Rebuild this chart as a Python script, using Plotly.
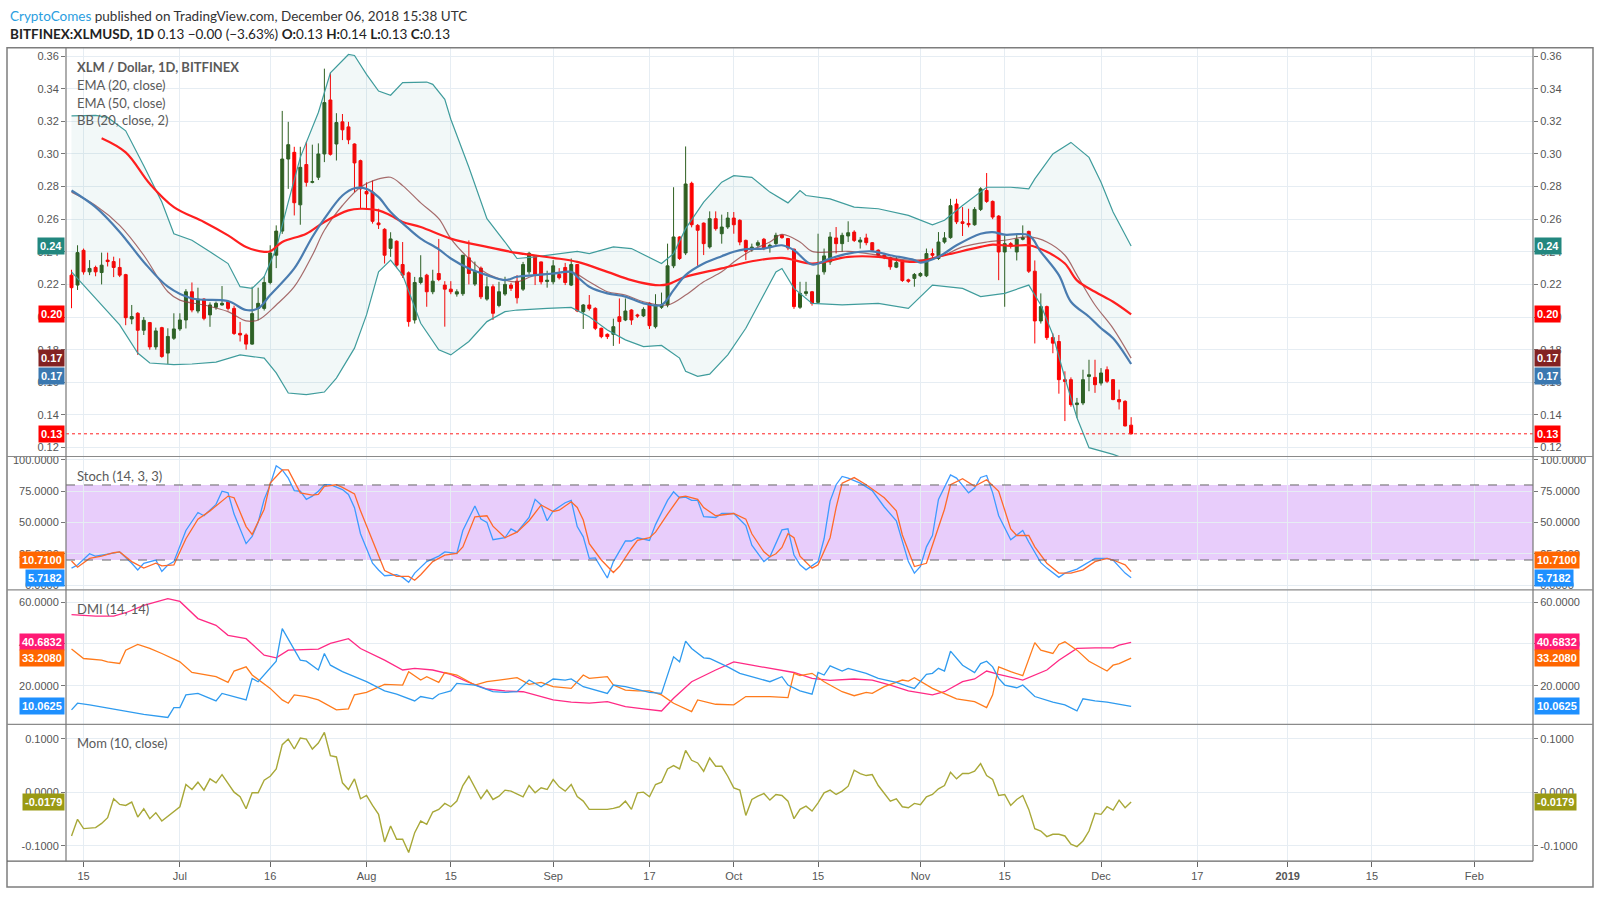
import plotly.graph_objects as go
import pandas as pd

# ---------------- data ----------------
candle_dates = pd.date_range("2018-06-13", "2018-12-06", freq="D")

opens = [.2257,.2196,.2409,.2277,.2304,.2273,.2349,.2340,.2304,.2260,
         .1988,.2023,.1919,.1966,.1817,.1935,.1779,.1870,.1927,.1982,
         .2155,.2037,.2110,.2013,.2060,.2074,.2094,.2053,.1900,.1890,
         .1834,.2053,.2053,.2212,.2379,.2527,.2969,.3010,.2688,.2935,
         .2826,.2857,.3000,.3331,.3061,.3197,.3166,.3061,.2959,.2770,
         .2766,.2577,.2538,.2421,.2465,.2322,.2271,.1982,.2212,.2257,
         .2155,.2267,.2196,.2171,.2141,.2143,.2363,.2202,.2300,.2110,
         .2186,.2071,.2141,.2196,.2220,.2171,.2277,.2373,.2338,.2218,
         .2216,.2261,.2304,.2196,.2322,.2033,.2074,.2053,.1931,.1894,
         .1894,.2002,.1982,.2043,.2013,.2007,.2084,.1941,.2060,.2074,
         .2314,.2491,.2393,.2820,.2562,.2576,.2430,.2603,.2511,.2552,
         .2607,.2593,.2470,.2413,.2440,.2477,.2427,.2450,.2501,.2481,
         .2416,.2060,.2145,.2155,.2090,.2277,.2338,.2485,.2450,.2497,
         .2521,.2460,.2485,.2456,.2410,.2379,.2363,.2306,.2338,.2228,
         .2237,.2253,.2253,.2389,.2359,.2460,.2487,.2693,.2584,.2574,
         .2566,.2660,.2776,.2709,.2619,.2399,.2450,.2399,.2477,.2525,
         .2281,.1976,.2064,.1874,.1850,.1616,.1616,.1463,.1473,.1636,
         .1630,.1595,.1677,.1616,.1494,.1483,.1337]
highs = [.2290,.2440,.2420,.2349,.2315,.2395,.2395,.2370,.2360,.2265,
         .2074,.2030,.2000,.1970,.1935,.1940,.1931,.2023,.2023,.2171,
         .2212,.2180,.2115,.2090,.2095,.2190,.2100,.2070,.1970,.1900,
         .2186,.2180,.2250,.2440,.2562,.3264,.3197,.3044,.3044,.3075,
         .3057,.3065,.3523,.3498,.3250,.3245,.3197,.3065,.2965,.2826,
         .2837,.2664,.2545,.2520,.2470,.2460,.2280,.2246,.2379,.2265,
         .2290,.2479,.2220,.2220,.2170,.2380,.2470,.2340,.2310,.2247,
         .2200,.2216,.2247,.2210,.2257,.2338,.2400,.2380,.2340,.2284,
         .2349,.2300,.2332,.2359,.2325,.2080,.2135,.2060,.1935,.1900,
         .1990,.2114,.2114,.2048,.2020,.2060,.2090,.2140,.2150,.2450,
         .2796,.2495,.3046,.2830,.2570,.2580,.2648,.2648,.2628,.2644,
         .2644,.2600,.2475,.2450,.2470,.2485,.2450,.2517,.2507,.2485,
         .2420,.2216,.2216,.2160,.2511,.2420,.2521,.2552,.2517,.2587,
         .2532,.2490,.2511,.2460,.2415,.2385,.2370,.2369,.2345,.2235,
         .2270,.2275,.2420,.2420,.2521,.2521,.2725,.2725,.2674,.2664,
         .2674,.2796,.2883,.2715,.2625,.2501,.2460,.2511,.2562,.2530,
         .2347,.2145,.2070,.1900,.1890,.1667,.1630,.1504,.1677,.1738,
         .1738,.1687,.1697,.1620,.1555,.1490,.1386]
lows = [.2054,.2166,.2260,.2257,.2250,.2200,.2310,.2245,.2245,.1950,
        .1956,.1768,.1890,.1800,.1800,.1750,.1712,.1860,.1915,.1930,
        .2029,.2023,.1980,.1940,.2045,.2070,.2040,.1890,.1850,.1800,
        .1830,.1980,.2040,.2200,.2300,.2510,.2786,.2623,.2566,.2800,
        .2820,.2840,.2950,.2990,.2960,.3085,.3060,.2766,.2664,.2664,
        .2573,.2540,.2328,.2369,.2300,.2240,.1941,.1960,.2200,.2063,
        .2140,.2220,.1941,.2140,.2125,.2130,.2200,.2190,.2110,.2100,
        .1982,.2060,.2130,.2160,.2083,.2160,.2260,.2196,.2200,.2180,
        .2200,.2230,.2196,.2190,.2030,.1927,.2040,.1920,.1870,.1865,
        .1823,.1836,.1975,.1952,.1995,.2000,.1927,.1930,.2050,.2060,
        .2300,.2350,.2380,.2550,.2314,.2380,.2420,.2530,.2450,.2540,
        .2511,.2440,.2349,.2400,.2430,.2410,.2395,.2440,.2480,.2410,
        .2050,.2050,.2130,.2070,.2080,.2260,.2320,.2390,.2400,.2460,
        .2460,.2420,.2440,.2400,.2370,.2355,.2290,.2300,.2215,.2210,
        .2186,.2245,.2245,.2359,.2350,.2450,.2480,.2570,.2497,.2550,
        .2560,.2650,.2700,.2600,.2226,.2063,.2420,.2347,.2470,.2270,
        .1838,.1960,.1860,.1778,.1530,.1362,.1450,.1382,.1460,.1545,
        .1535,.1580,.1595,.1490,.1433,.1330,.1280]
closes = [.2180,.2395,.2277,.2298,.2277,.2318,.2340,.2304,.2257,.1996,
          .2003,.1919,.1980,.1817,.1915,.1758,.1881,.1927,.1982,.2155,
          .2043,.2110,.1992,.2074,.2084,.2084,.2053,.1899,.1890,.1834,
          .2021,.2084,.2212,.2393,.2527,.2969,.3057,.2701,.2918,.2826,
          .2830,.3000,.3315,.2998,.3193,.3148,.3087,.2945,.2786,.2755,
          .2587,.2566,.2379,.2479,.2318,.2257,.1972,.2212,.2241,.2155,
          .2220,.2230,.2171,.2155,.2155,.2379,.2267,.2281,.2124,.2186,
          .2023,.2155,.2200,.2176,.2118,.2322,.2391,.2261,.2216,.2226,
          .2314,.2241,.2212,.2322,.2037,.2074,.2053,.1931,.1880,.1880,
          .1941,.1972,.2037,.1982,.2007,.2047,.1947,.2074,.2074,.2314,
          .2491,.2359,.2816,.2566,.2532,.2450,.2603,.2542,.2552,.2607,
          .2566,.2460,.2403,.2429,.2456,.2420,.2440,.2501,.2487,.2424,
          .2064,.2145,.2155,.2084,.2257,.2375,.2491,.2450,.2501,.2517,
          .2470,.2472,.2456,.2410,.2379,.2363,.2308,.2334,.2224,.2220,
          .2261,.2267,.2389,.2379,.2460,.2485,.2683,.2584,.2574,.2566,
          .2660,.2786,.2709,.2613,.2399,.2450,.2436,.2477,.2487,.2281,
          .1976,.2064,.1874,.1840,.1616,.1605,.1463,.1473,.1616,.1646,
          .1585,.1657,.1606,.1494,.1480,.1332,.1284]

ema20_days = ["06-13","06-17","06-21","06-25","06-29","07-03","07-09","07-12","07-14","07-16",
              "07-20","07-23","07-25","07-28","07-30","08-01","08-03","08-05","08-08","08-10",
              "08-13","08-15","08-18","08-21","08-24","08-26","08-29","09-01","09-04","09-05",
              "09-07","09-10","09-13","09-16","09-19","09-21","09-23","09-26","09-29","10-01",
              "10-03","10-06","10-09","10-11","10-14","10-17","10-20","10-24","10-27","10-31",
              "11-01","11-04","11-07","11-11","11-13","11-15","11-19","11-21","11-24","11-26",
              "11-29","12-01","12-03","12-06"]
ema20_vals = [.2776,.2674,.2522,.2338,.2186,.2114,.2098,.2043,.2053,.2135,
              .2298,.2491,.2603,.2745,.2790,.2786,.2735,.2644,.2542,.2481,
              .2415,.2359,.2298,.2257,.2226,.2247,.2257,.2267,.2277,.2247,
              .2186,.2145,.2125,.2084,.2074,.2165,.2257,.2328,.2373,.2400,
              .2416,.2420,.2440,.2410,.2322,.2359,.2389,.2403,.2379,.2349,
              .2334,.2369,.2440,.2511,.2521,.2505,.2501,.2400,.2257,.2094,
              .2002,.1931,.1870,.1712]

ema50_days = ["06-18","06-22","06-26","06-30","07-05","07-09","07-12","07-15","07-16","07-18",
              "07-22","07-25","07-29","07-31","08-03","08-05","08-07","08-10","08-15","08-21",
              "08-26","09-01","09-05","09-10","09-14","09-18","09-20","09-23","09-29","10-04",
              "10-09","10-14","10-20","10-25","10-31","11-05","11-11","11-13","11-16","11-19",
              "11-22","11-25","11-27","11-30","12-03","12-06"]
ema50_vals = [.3097,.3010,.2817,.2674,.2583,.2501,.2430,.2400,.2403,.2460,
              .2511,.2583,.2654,.2664,.2654,.2623,.2583,.2552,.2481,.2430,
              .2393,.2363,.2338,.2277,.2226,.2196,.2200,.2247,.2298,.2342,
              .2363,.2328,.2369,.2369,.2338,.2379,.2430,.2444,.2436,.2440,
              .2400,.2328,.2225,.2155,.2094,.2017]

bb_mid_days = ["06-13","06-17","06-21","06-25","06-29","07-01","07-05","07-09","07-12","07-14",
               "07-17","07-20","07-23","07-25","07-28","07-31","08-03","08-05","08-07","08-10",
               "08-13","08-15","08-18","08-21","08-24","08-26","08-29","09-01","09-04","09-07",
               "09-10","09-13","09-16","09-20","09-23","09-26","09-29","10-01","10-04","10-07",
               "10-09","10-12","10-14","10-20","10-25","10-30","11-03","11-05","11-08","11-12",
               "11-15","11-19","11-22","11-25","11-27","11-30","12-03","12-06"]
bb_mid_vals = [.2766,.2684,.2562,.2379,.2155,.2104,.2074,.2033,.1976,.1982,
               .2074,.2186,.2379,.2532,.2684,.2796,.2847,.2857,.2806,.2700,
               .2603,.2481,.2359,.2267,.2226,.2216,.2257,.2267,.2277,.2216,
               .2155,.2135,.2094,.2074,.2135,.2216,.2277,.2338,.2410,.2460,
               .2507,.2460,.2403,.2403,.2379,.2349,.2359,.2379,.2430,.2460,
               .2471,.2491,.2460,.2379,.2257,.2074,.1931,.1748]

bb_up_days = ["06-13","06-17","06-19","06-22","06-25","06-28","06-30","07-03","07-06","07-09",
              "07-11","07-13","07-15","07-17","07-19","07-21","07-24","07-26","07-29","07-30",
              "08-01","08-03","08-05","08-07","08-11","08-12","08-14","08-15","08-18","08-21",
              "08-24","08-26","08-29","09-01","09-05","09-07","09-11","09-14","09-18","09-19",
              "09-21","09-23","09-26","09-29","10-01","10-04","10-07","10-10","10-12","10-13",
              "10-17","10-21","10-25","10-30","11-03","11-05","11-08","11-12","11-16","11-19",
              "11-20","11-23","11-26","11-29","12-01","12-03","12-06"]
bb_up_vals = [.3234,.3237,.3224,.3142,.2928,.2705,.2511,.2471,.2400,.2328,
              .2186,.2176,.2247,.2420,.2705,.2979,.3254,.3498,.3610,.3604,
              .3488,.3386,.3360,.3437,.3441,.3427,.3335,.3213,.2918,.2603,
              .2460,.2359,.2369,.2383,.2403,.2389,.2430,.2420,.2349,.2328,
              .2389,.2542,.2705,.2827,.2867,.2857,.2766,.2700,.2776,.2745,
              .2725,.2674,.2664,.2623,.2566,.2593,.2684,.2796,.2796,.2786,
              .2847,.3000,.3071,.2979,.2827,.2644,.2436]

bb_lo_days = ["06-13","06-17","06-21","06-24","06-26","06-30","07-03","07-07","07-11","07-15",
              "07-17","07-19","07-22","07-25","07-27","07-30","08-01","08-03","08-05","08-07",
              "08-10","08-13","08-15","08-18","08-21","08-24","08-26","08-31","09-04","09-07",
              "09-10","09-13","09-16","09-19","09-22","09-23","09-25","09-27","09-30","10-03",
              "10-06","10-08","10-09","10-11","10-14","10-19","10-25","10-30","11-03","11-08",
              "11-11","11-15","11-19","11-21","11-23","11-25","11-27","11-29","12-03","12-06"]
bb_lo_vals = [.2277,.2114,.1952,.1779,.1718,.1708,.1712,.1724,.1768,.1748,
              .1657,.1534,.1524,.1540,.1626,.1809,.2013,.2277,.2349,.2257,
              .1962,.1799,.1768,.1850,.1972,.2033,.2043,.2053,.2059,.2002,
              .1921,.1860,.1819,.1826,.1748,.1667,.1636,.1650,.1768,.1931,
              .2135,.2277,.2298,.2176,.2084,.2074,.2084,.2053,.2196,.2176,
              .2125,.2145,.2196,.2074,.1891,.1626,.1382,.1199,.1158,.1117]

stoch_k_days = ["06-13","06-14","06-16","06-17","06-19","06-21","06-23","06-24","06-25","06-27",
                "06-28","06-29","06-30","07-02","07-04","07-05","07-07","07-08","07-09","07-10",
                "07-12","07-13","07-14","07-15","07-16","07-17","07-18","07-19","07-20","07-21",
                "07-22","07-23","07-24","07-25","07-26","07-28","07-29","07-30","07-31","08-02",
                "08-03","08-04","08-06","08-07","08-08","08-09","08-11","08-13","08-14","08-16",
                "08-17","08-19","08-20","08-21","08-22","08-24","08-25","08-26","08-28","08-29",
                "08-30","08-31","09-01","09-03","09-04","09-05","09-06","09-07","09-08","09-10",
                "09-11","09-13","09-14","09-15","09-17","09-18","09-20","09-21","09-22","09-23",
                "09-24","09-25","09-26","09-28","09-29","10-01","10-03","10-04","10-06","10-07",
                "10-09","10-10","10-11","10-12","10-13","10-15","10-16","10-17","10-18","10-19",
                "10-20","10-22","10-24","10-26","10-28","10-30","10-31","11-01","11-02","11-03",
                "11-04","11-06","11-07","11-09","11-10","11-11","11-12","11-13","11-14","11-16",
                "11-18","11-19","11-21","11-22","11-24","11-25","11-27","11-29","11-30","12-02",
                "12-03","12-05","12-06"]
stoch_k_vals = [13.5,16,25,23,24.7,26.5,17.4,12,17.4,20,
                10.8,16,18.7,43.6,58,55.4,64.5,75,73.7,56.7,
                33.1,38.9,50.1,68.5,80.2,95.4,92,85.5,75.5,75,
                68.5,71.1,75,80.2,80.2,76.3,72.4,61.9,41,17.4,
                12,7.4,8.2,6.1,2.2,9.5,18.7,23.1,26.5,25.2,
                43.6,63.2,52.7,50.1,36.2,37.8,44.9,42.3,54,68.5,
                64,51.4,59.3,65.8,67.7,46.7,38.5,21.3,21.7,5.6,
                18.7,35.2,35.2,37.8,35.7,48.3,67.7,74.5,69.8,70.3,
                67.7,67.7,54.6,54,57.2,57.2,47.5,31.8,18.7,22.6,
                44.1,44.9,23.9,16.1,12.1,18.7,37,67.1,80.2,86.8,
                85.5,81.5,75.5,62.4,51.4,18.7,9.5,14.8,30.5,39.6,
                68.5,88.1,85.5,73.7,77.6,86,87.6,73.7,55.4,36.2,
                43.6,34.4,17.9,13.5,6.1,9.5,12.7,18.7,21.3,21.3,
                20,9.5,5.7182]

stoch_d_days = ["06-13","06-14","06-16","06-18","06-20","06-21","06-23","06-25","06-27","06-28",
                "06-30","07-02","07-04","07-06","07-09","07-10","07-12","07-13","07-15","07-16",
                "07-18","07-19","07-20","07-21","07-23","07-24","07-25","07-27","07-28","07-30",
                "07-31","08-02","08-04","08-06","08-08","08-09","08-10","08-12","08-14","08-16",
                "08-17","08-19","08-21","08-22","08-24","08-26","08-28","08-30","09-01","09-02",
                "09-04","09-05","09-06","09-07","09-09","09-11","09-12","09-14","09-15","09-17",
                "09-18","09-20","09-22","09-23","09-25","09-26","09-28","10-01","10-03","10-04",
                "10-06","10-07","10-08","10-09","10-10","10-11","10-12","10-14","10-15","10-17",
                "10-18","10-19","10-21","10-23","10-26","10-28","10-29","10-31","11-02","11-03",
                "11-05","11-06","11-08","11-10","11-11","11-12","11-14","11-16","11-17","11-19",
                "11-20","11-22","11-24","11-26","11-28","11-30","12-02","12-03","12-05","12-06"]
stoch_d_vals = [19.2,14.2,21.3,23.1,25.8,26.5,18.7,13.5,17.4,15.3,
                16,37,52.7,59.3,71.1,69.8,46.7,40.4,60.6,81.5,
                92,92,82.9,73.7,71.9,72.4,78.9,80.2,78.1,72.9,
                59.3,36.2,11.6,6.9,6.9,3.8,8.2,18.7,23.9,25.2,
                30.5,54.6,55.4,47.1,37.8,42.3,51.4,64,58.8,59.8,
                66.6,62,52,33,20,10,14.8,29.2,35.7,37.8,
                42.3,56.7,70.3,71.1,68.5,61.9,55.4,57.2,52.7,41,
                26.5,22.6,25,30,41,37.8,23.1,13.5,16.1,37.8,
                61.9,81.5,85.9,80.2,69.8,59.3,40,14.8,17.4,31.8,
                60.6,80.2,85,78.9,81.5,84.2,75,44.9,39.6,39.6,
                30.5,17.4,9.5,9.5,12.1,18.7,21.3,20,16.1,10.71]

adx_days = ["06-13","06-17","06-20","06-22","06-25","06-29","07-01","07-04","07-07","07-09",
            "07-12","07-15","07-17","07-19","07-24","07-26","07-29","07-31","08-04","08-07",
            "08-09","08-12","08-15","08-18","08-21","08-24","08-27","08-29","09-01","09-04",
            "09-07","09-10","09-13","09-16","09-19","09-21","09-24","09-28","10-01","10-04",
            "10-07","10-11","10-14","10-17","10-21","10-24","10-27","10-30","11-03","11-05",
            "11-08","11-10","11-12","11-14","11-18","11-22","11-24","11-27","11-30","12-03",
            "12-04","12-06"]
adx_vals = [54,53.3,53.3,54.9,58.4,61.6,60.3,52.1,48.9,44.1,
            42.5,34.6,33.3,37,37.5,40.2,42.5,37.8,32.2,27.5,
            28.3,27.5,25.4,21.6,18.4,17.5,17.1,15.6,13.2,12.1,
            11.6,12.4,10,8.9,7.9,14,21.9,27.5,31.4,29.8,
            28.3,26.3,23.5,22.5,23.2,22.7,20.3,17.5,15.6,17.1,
            21.9,23.2,27,25.4,22.7,27.5,32.2,37.8,38.1,38.1,
            39.4,40.6832]

mdi_days = ["06-13","06-15","06-18","06-19","06-21","06-22","06-24","06-26","06-28","07-01",
            "07-03","07-07","07-09","07-10","07-12","07-13","07-16","07-18","07-19","07-20",
            "07-22","07-24","07-27","07-29","07-30","08-01","08-04","08-07","08-08","08-10",
            "08-11","08-13","08-14","08-16","08-19","08-21","08-23","08-26","08-28","08-30",
            "09-01","09-04","09-06","09-07","09-10","09-11","09-13","09-15","09-17","09-19",
            "09-21","09-24","09-25","09-28","10-01","10-03","10-07","10-10","10-11","10-12",
            "10-14","10-16","10-19","10-21","10-23","10-24","10-26","10-29","10-30","10-31",
            "11-03","11-06","11-07","11-10","11-12","11-13","11-14","11-16","11-18","11-20",
            "11-21","11-23","11-24","11-25","11-27","11-29","12-01","12-02","12-03","12-04",
            "12-06"]
mdi_vals = [37.5,33,32.2,31.4,30.6,37,39.7,37.8,35.4,31.4,
            26.3,24.3,21.6,27,29,25.1,18.7,13.2,11.6,15.6,
            14.8,13.2,8.4,8.9,15.6,16.8,20.6,20.3,26.7,22.7,
            24.3,21.6,26.3,25.1,20.3,21.9,22.7,23.8,20.6,21.6,
            19.5,18.7,25.1,23.5,24.3,20.3,17.9,17.5,17.5,15.6,
            11.6,7.6,13.2,11.1,10.8,14.8,14.8,14.3,25.9,24.8,
            25.9,21.9,17.1,15.2,16.8,16.3,19.5,22.7,22.2,23.8,
            18.7,14.8,13.7,12.4,9.5,15.6,29,26.7,24.8,40.6,
            37,35.4,39.7,41,37,31.7,28.6,27,29.8,30.6,
            33.208]

pdi_days = ["06-13","06-14","06-16","06-19","06-21","06-25","06-29","06-30","07-01","07-02",
            "07-04","07-07","07-08","07-12","07-13","07-14","07-17","07-18","07-21","07-22",
            "07-24","07-25","07-26","07-28","08-01","08-04","08-06","08-09","08-10","08-12",
            "08-13","08-15","08-16","08-19","08-22","08-24","08-26","08-28","08-30","09-01",
            "09-03","09-04","09-06","09-07","09-09","09-10","09-11","09-13","09-17","09-19",
            "09-21","09-22","09-23","09-24","09-26","09-27","09-30","10-02","10-05","10-07",
            "10-09","10-10","10-12","10-14","10-15","10-16","10-17","10-19","10-20","10-23",
            "10-25","10-28","10-30","10-31","11-02","11-03","11-04","11-05","11-06","11-08",
            "11-10","11-11","11-12","11-13","11-14","11-15","11-17","11-18","11-20","11-23",
            "11-25","11-27","11-28","11-30","12-02","12-06"]
pdi_vals = [8.4,11.6,10.8,9.2,8.4,6.3,4.8,9.5,9.5,15.6,
            16.3,12.7,16.3,13.2,23.5,21.9,31.7,47.3,32.2,31.7,
            27.5,35.4,29.8,26.7,21.9,17.5,15.9,12.7,14.8,13.7,
            15.9,17.5,21.1,20.3,17.1,16.8,17.1,22.7,19.5,23.2,
            22.7,23.2,19.5,18.7,17.1,16.3,20.3,19.5,16.8,16.3,
            33.8,31.4,41.3,37.8,33.3,33,29,25.9,23.5,21.9,
            24.3,20.3,17.5,15.9,26.3,25.1,29.5,27,28.3,25.9,
            23.5,21.6,19.5,18.7,25.4,25.9,28.3,27,36.5,29.8,
            26.3,30.6,31.7,29,23.5,20.3,19,20.3,14.8,12.1,
            10.8,7.9,13.7,12.7,12.1,10.0625]

mom_vals = [-0.0814,-0.0504,-0.0677,-0.0665,-0.0659,-0.0580,-0.0473,-0.0120,-0.0226,-0.0244,
            -0.0182,-0.0461,-0.0306,-0.0492,-0.0380,-0.0535,-0.0442,-0.0350,-0.0269,0.0146,
            0.0053,0.0189,0.0041,0.0251,0.0177,0.0331,0.0177,0.0003,-0.0083,-0.0306,
            -0.0009,-0.0009,0.0226,0.0300,0.0437,0.0889,0.0994,0.0808,0.1012,0.0994,
            0.0808,0.0920,0.1118,0.0684,0.0660,0.0177,0.0053,0.0251,-0.0120,-0.0058,
            -0.0244,-0.0411,-0.0925,-0.0628,-0.0876,-0.0876,-0.1123,-0.0752,-0.0535,-0.0597,
            -0.0368,-0.0318,-0.0207,-0.0269,-0.0164,0.0127,0.0300,0.0084,-0.0120,0.0041,
            -0.0133,-0.0071,0.0041,0.0022,-0.0030,-0.0083,0.0127,-0.0009,0.0084,0.0053,
            0.0239,0.0102,0.0022,0.0146,-0.0080,-0.0164,-0.0318,-0.0318,-0.0318,-0.0318,
            -0.0300,-0.0269,-0.0164,-0.0318,-0.0009,0.0003,-0.0083,0.0146,0.0189,0.0437,
            0.0499,0.0437,0.0783,0.0598,0.0548,0.0393,0.0641,0.0486,0.0486,0.0300,
            0.0084,0.0041,-0.0430,-0.0133,-0.0071,-0.0021,-0.0145,-0.0040,-0.0058,-0.0164,
            -0.0492,-0.0318,-0.0257,-0.0349,-0.0195,-0.0009,0.0041,-0.0040,0.0022,0.0115,
            0.0412,0.0350,0.0313,0.0331,0.0127,-0.0021,-0.0164,-0.0120,-0.0269,-0.0288,
            -0.0207,-0.0232,-0.0083,-0.0040,0.0065,0.0127,0.0375,0.0251,0.0350,0.0350,
            0.0393,0.0536,0.0313,0.0239,-0.0058,-0.0040,-0.0244,-0.0133,-0.0058,-0.0318,
            -0.0677,-0.0721,-0.0826,-0.0783,-0.0783,-0.0814,-0.0968,-0.1012,-0.0907,-0.0721,
            -0.0393,-0.0411,-0.0269,-0.0331,-0.0145,-0.0288,-0.0179]

tick_dates = ["2018-06-15","2018-07-01","2018-07-16","2018-08-01","2018-08-15","2018-09-01",
              "2018-09-17","2018-10-01","2018-10-15","2018-11-01","2018-11-15","2018-12-01",
              "2018-12-17","2019-01-01","2019-01-15","2019-02-01"]
tick_text = ["15","Jul","16","Aug","15","Sep","17","Oct","15","Nov","15","Dec","17","<b>2019</b>","15","Feb"]

price_ticks = [0.12,0.14,0.16,0.18,0.20,0.22,0.24,0.26,0.28,0.30,0.32,0.34,0.36]
stoch_ticks = [0,25,50,75,100]
dmi_ticks = [20,40,60]
mom_ticks = [-0.1,0.0,0.1]

# ---------------- style ----------------
W, H = 1600, 900
GREEN = "#2f5f20"
RED = "#ff0000"
GRID = "#e6edf3"
TXT = "#555555"
AXFONT = dict(family="Liberation Sans, Arial", size=11, color=TXT)


def px(x):
    return x / W


def py(y):
    return 1 - y / H


def md(days):
    return ["2018-" + d for d in days]


X_DOM = [px(66), px(1533)]
XR = ["2018-06-12 02:00", "2019-02-10 18:00"]
DOMS = {"y": [py(455), py(45)], "y2": [py(589), py(456)],
        "y3": [py(724), py(590)], "y4": [py(862), py(725)]}
RANGES = {"y": [0.1148, 0.3651], "y2": [-3.5, 102.4], "y3": [1.76, 65.6], "y4": [-0.1284, 0.126]}

fig = go.Figure()

# Bollinger band fill
fig.add_trace(go.Scatter(x=md(bb_up_days), y=bb_up_vals, mode="lines",
                         line=dict(color="#3f9c9c", width=1.2), hoverinfo="skip", showlegend=False))
fig.add_trace(go.Scatter(x=md(bb_lo_days), y=bb_lo_vals, mode="lines", fill="tonexty",
                         fillcolor="rgba(30,140,140,0.06)",
                         line=dict(color="#3f9c9c", width=1.2), hoverinfo="skip", showlegend=False))
fig.add_trace(go.Scatter(x=md(bb_mid_days), y=bb_mid_vals, mode="lines", line_shape="spline",
                         line=dict(color="rgba(140,60,60,0.75)", width=1.2), hoverinfo="skip", showlegend=False))
fig.add_trace(go.Scatter(x=md(ema50_days), y=ema50_vals, mode="lines", line_shape="spline",
                         line=dict(color="#ff1f1f", width=2.2), hoverinfo="skip", showlegend=False))
fig.add_trace(go.Scatter(x=md(ema20_days), y=ema20_vals, mode="lines", line_shape="spline",
                         line=dict(color="#4a7cb0", width=2.2), hoverinfo="skip", showlegend=False))
fig.add_trace(go.Candlestick(x=candle_dates, open=opens, high=highs, low=lows, close=closes,
                             increasing=dict(line=dict(color=GREEN, width=1), fillcolor=GREEN),
                             decreasing=dict(line=dict(color=RED, width=1), fillcolor=RED),
                             whiskerwidth=0, hoverinfo="skip", showlegend=False))

# Stoch
fig.add_trace(go.Scatter(x=md(stoch_k_days), y=stoch_k_vals, mode="lines", xaxis="x2", yaxis="y2",
                         line=dict(color="#3d9bff", width=1.3), hoverinfo="skip", showlegend=False))
fig.add_trace(go.Scatter(x=md(stoch_d_days), y=stoch_d_vals, mode="lines", xaxis="x2", yaxis="y2",
                         line=dict(color="#ff6a2a", width=1.3), hoverinfo="skip", showlegend=False))
# DMI
fig.add_trace(go.Scatter(x=md(adx_days), y=adx_vals, mode="lines", xaxis="x3", yaxis="y3",
                         line=dict(color="#ff2a85", width=1.3), hoverinfo="skip", showlegend=False))
fig.add_trace(go.Scatter(x=md(mdi_days), y=mdi_vals, mode="lines", xaxis="x3", yaxis="y3",
                         line=dict(color="#ff7b1c", width=1.3), hoverinfo="skip", showlegend=False))
fig.add_trace(go.Scatter(x=md(pdi_days), y=pdi_vals, mode="lines", xaxis="x3", yaxis="y3",
                         line=dict(color="#2f9bef", width=1.3), hoverinfo="skip", showlegend=False))
# Mom
fig.add_trace(go.Scatter(x=candle_dates, y=mom_vals, mode="lines", xaxis="x4", yaxis="y4",
                         line=dict(color="#a8a838", width=1.4), hoverinfo="skip", showlegend=False))

# invisible traces to carry the right-hand axes
for ax_r, ax_x, val in [("y5", "x", 0.2), ("y6", "x2", 50), ("y7", "x3", 20), ("y8", "x4", 0.0)]:
    fig.add_trace(go.Scatter(x=[candle_dates[0]], y=[val], xaxis=ax_x, yaxis=ax_r, mode="markers",
                             marker=dict(opacity=0), hoverinfo="skip", showlegend=False))

layout = dict(width=W, height=H, margin=dict(l=0, r=0, t=0, b=0),
              paper_bgcolor="white", plot_bgcolor="white", showlegend=False,
              font=dict(family="Lato, Liberation Sans", color=TXT))

xbase = dict(range=XR, domain=X_DOM, type="date", tickvals=tick_dates, ticktext=tick_text,
             showgrid=True, gridcolor=GRID, gridwidth=1, zeroline=False, showline=False,
             showticklabels=False, ticks="", rangeslider=dict(visible=False), fixedrange=True)
layout["xaxis"] = dict(xbase, anchor="y")
layout["xaxis2"] = dict(xbase, anchor="y2")
layout["xaxis3"] = dict(xbase, anchor="y3")
layout["xaxis4"] = dict(xbase, anchor="y4", showticklabels=True, ticks="outside", ticklen=5,
                        tickcolor="#666", tickfont=AXFONT)

specs = [("y", "x", price_ticks, [f"{v:.2f}" for v in price_ticks]),
         ("y2", "x2", stoch_ticks, [f"{v:.4f}" for v in stoch_ticks]),
         ("y3", "x3", dmi_ticks, [f"{v:.4f}" for v in dmi_ticks]),
         ("y4", "x4", mom_ticks, [f"{v:.4f}" for v in mom_ticks])]
right_names = {"y": "yaxis5", "y2": "yaxis6", "y3": "yaxis7", "y4": "yaxis8"}
for name, xa, tv, tt in specs:
    key = "yaxis" if name == "y" else "yaxis" + name[1:]
    layout[key] = dict(domain=DOMS[name], range=RANGES[name], anchor=xa, side="left",
                       tickvals=tv, ticktext=tt, showgrid=True, gridcolor=GRID, zeroline=False,
                       ticks="outside", ticklen=4, tickcolor="#777", tickfont=AXFONT,
                       showline=False, fixedrange=True)
    layout[right_names[name]] = dict(range=RANGES[name], anchor=xa, overlaying=name, side="right",
                                     tickvals=tv, ticktext=tt, showgrid=False, zeroline=False,
                                     ticks="outside", ticklen=4, tickcolor="#777", tickfont=AXFONT,
                                     showline=False, fixedrange=True)
fig.update_layout(**layout)

shapes = []
# stoch band 20-80
shapes.append(dict(type="rect", xref="x2 domain", x0=0, x1=1, yref="y2", y0=20, y1=80,
                   fillcolor="#e8cdfb", line=dict(width=0), layer="below"))
for lvl in (20, 80):
    shapes.append(dict(type="line", xref="x2 domain", x0=0, x1=1, yref="y2", y0=lvl, y1=lvl,
                       line=dict(color="#666", width=1, dash="dash")))
# last price line
shapes.append(dict(type="line", xref="x domain", x0=0, x1=1, yref="y", y0=closes[-1], y1=closes[-1],
                   line=dict(color="#ff2020", width=1, dash="dot")))
# frame and pane borders
shapes.append(dict(type="rect", xref="paper", yref="paper", x0=px(7), x1=px(1593), y0=py(888), y1=py(45),
                   line=dict(color="#7d7d7d", width=1.5)))
for yy in (455.5, 589.5, 724.5):
    shapes.append(dict(type="line", xref="paper", yref="paper", x0=px(7), x1=px(1593), y0=py(yy), y1=py(yy),
                       line=dict(color="#8a8a8a", width=1.2)))
shapes.append(dict(type="line", xref="paper", yref="paper", x0=px(7), x1=px(1533), y0=py(862), y1=py(862),
                   line=dict(color="#666", width=1.2)))
for xx in (66, 1533):
    shapes.append(dict(type="line", xref="paper", yref="paper", x0=px(xx), x1=px(xx), y0=py(862), y1=py(45),
                       line=dict(color="#777", width=1.2)))
fig.update_layout(shapes=shapes)

ann = []
# header
ann.append(dict(xref="paper", yref="paper", x=px(8), y=py(13), xanchor="left", yanchor="middle",
                showarrow=False, font=dict(family="Lato", size=13.5, color="#333"),
                text="<span style='color:#2a9ee0'>CryptoComes</span> published on TradingView.com, December 06, 2018 15:38 UTC"))
ann.append(dict(xref="paper", yref="paper", x=px(8), y=py(31), xanchor="left", yanchor="middle",
                showarrow=False, font=dict(family="Lato", size=13.5, color="#222"),
                text="<b>BITFINEX:XLMUSD, 1D</b> 0.13 \u22120.00 (\u22123.63%) <b>O:</b>0.13 <b>H:</b>0.14 <b>L:</b>0.13 <b>C:</b>0.13"))
# pane titles
for txt, yy in [("<b>XLM / Dollar, 1D, BITFINEX</b>", 64), ("EMA (20, close)", 82),
                ("EMA (50, close)", 100), ("BB (20, close, 2)", 118),
                ("Stoch (14, 3, 3)", 475), ("DMI (14, 14)", 609), ("Mom (10, close)", 743)]:
    ann.append(dict(xref="paper", yref="paper", x=px(75), y=py(yy), xanchor="left", yanchor="middle",
                    showarrow=False, font=dict(family="Lato", size=13, color="#5a5a5a"), text=txt))

# value labels on both axes
labels = [("y", 0.2436, "0.24", "#22877f"), ("y", 0.2017, "0.20", "#ff0000"),
          ("y", 0.1748, "0.17", "#832222"), ("y", 0.164, "0.17", "#3a78b0"),
          ("y", closes[-1], "0.13", "#ff0000"),
          ("y2", 20, "10.7100", "#ff6600"), ("y2", 6, "5.7182", "#1e90ff"),
          ("y3", 40.6832, "40.6832", "#ff1a75"), ("y3", 33.208, "33.2080", "#ff6600"),
          ("y3", 10.0625, "10.0625", "#1e90ff"),
          ("y4", -0.0179, "-0.0179", "#9a9a14")]
for yref, val, txt, col in labels:
    for xx, anc in ((px(1534), "left"), (px(65), "right")):
        ann.append(dict(xref="paper", yref=yref, x=xx, y=val, xanchor=anc, yanchor="middle",
                        showarrow=False, text="<b>" + txt + "</b>", bgcolor=col, borderpad=2,
                        font=dict(family="Liberation Sans, Arial", size=11, color="white")))
fig.update_layout(annotations=ann)

fig.write_html("out.html")
